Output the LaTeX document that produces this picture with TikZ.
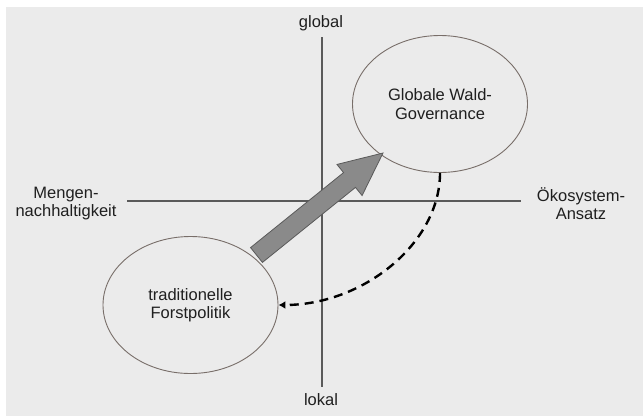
\documentclass[tikz,border=0pt]{standalone}
\usepackage{fontspec}
\setmainfont{Liberation Sans}
\usetikzlibrary{shapes.geometric,calc,arrows.meta}
\definecolor{bggray}{HTML}{EBEBEB}
\definecolor{axisgray}{HTML}{5A5A5A}
\definecolor{ringgray}{HTML}{786E69}
\definecolor{arrowfill}{HTML}{8A8A8A}
\tikzset{
  txt/.style={font=\fontsize{16.5}{18.5}\selectfont, text=black!88, align=center, inner sep=0pt},
  axis/.style={draw=axisgray, line width=1.4pt},
  field/.style={ellipse, draw=ringgray, line width=0.9pt, fill=bggray, minimum width=175pt, minimum height=137pt, inner sep=0pt, txt},
  bigarrow/.style={fill=arrowfill, draw=axisgray, line width=0.8pt, line join=miter},
  back/.style={draw=black, line width=2.4pt, dash pattern=on 9pt off 6pt, -{Latex[length=7pt,width=8pt]}}
}
\begin{document}
\begin{tikzpicture}[x=1pt,y=-1pt]
\fill[white] (0,0) rectangle (643,416);
\useasboundingbox (0,0) rectangle (643,416);
\fill[bggray] (6,7) rectangle (643,416);
% axes
\coordinate (vtop) at (322,37);
\coordinate (vbot) at (322,387);
\coordinate (hl) at (127,201);
\coordinate (hr) at (521,201);
\draw[axis] (vtop) -- (vbot);
\draw[axis] (hl) -- (hr);
% axis labels
\node[txt] (global) at (321,23) {global};
\node[txt] (lokal) at (321,400) {lokal};
\node[txt] (menge) at (66,203.5) {Mengen-\\nachhaltigkeit};
\node[txt] (oeko) at (581,203.5) {Ökosystem-\\Ansatz};
% fields
\node[field] (G) at (440,104) {Globale Wald-\\Governance};
\node[field] (T) at (190.5,305) {traditionelle\\Forstpolitik};
% big arrow
\coordinate (tl) at (256.5,255);
\coordinate (tip) at (383,153);
\coordinate (hb) at ($(tip)!43pt!(tl)$);
\draw[bigarrow]
  ($(tl)!9.5pt!90:(tip)$) --
  ($(hb)!9.5pt!90:(tip)$) --
  ($(hb)!20pt!90:(tip)$) --
  (tip) --
  ($(hb)!20pt!-90:(tip)$) --
  ($(hb)!9.5pt!-90:(tip)$) --
  ($(tl)!9.5pt!-90:(tip)$) -- cycle;
% dashed return arrow
\draw[back] (G.south) .. controls ($(G.south)+(0,70)$) and ($(T.east)+(85,0)$) .. (T.east);
\end{tikzpicture}
\end{document}
